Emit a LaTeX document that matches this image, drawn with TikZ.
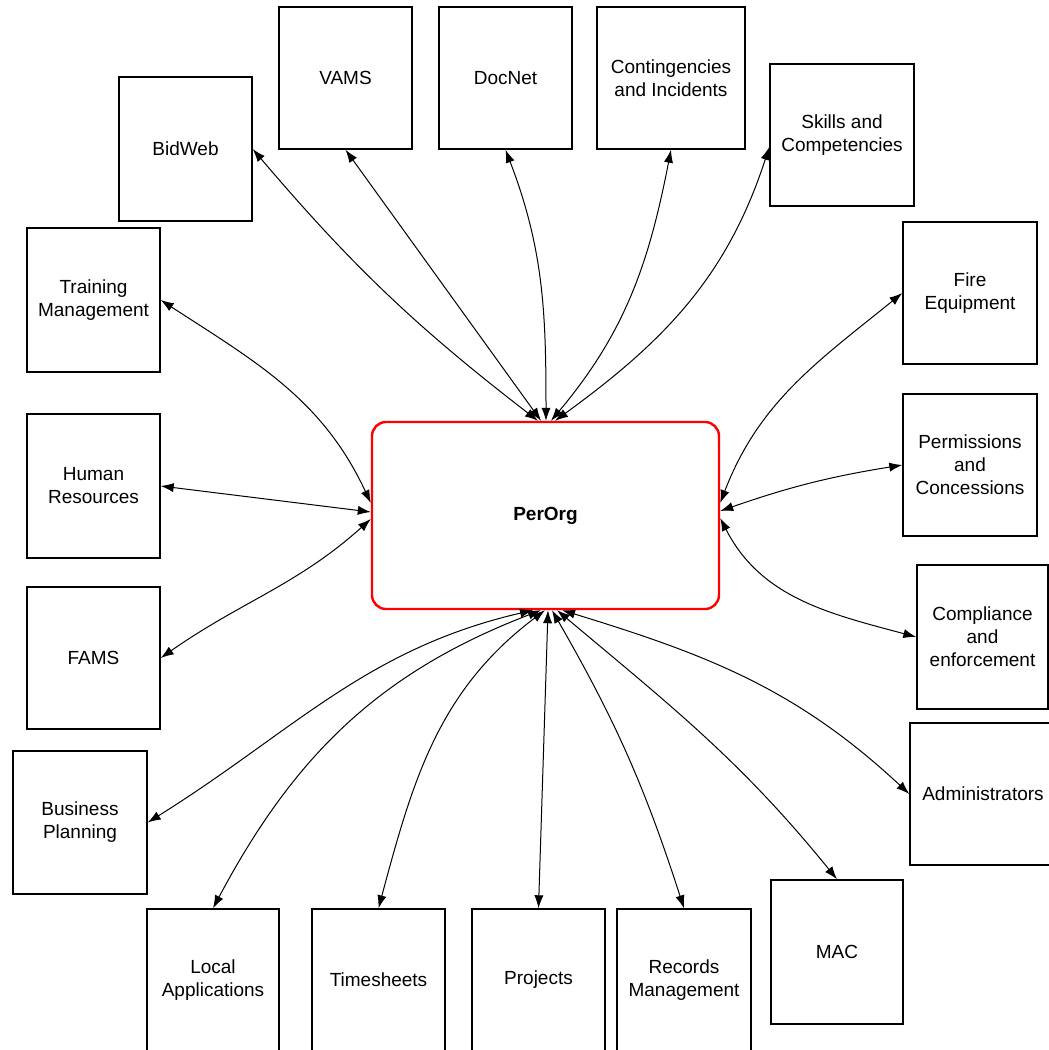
\documentclass[tikz,border=0pt]{standalone}
\usepackage{fontspec}
\setmainfont{Liberation Sans}
\usetikzlibrary{arrows.meta,calc}
\begin{document}
\begin{tikzpicture}[x=0.5pt,y=0.5pt,
  box/.style={draw=black, line width=0.7pt, fill=white, align=center, inner sep=0pt,
    font=\fontsize{9.5}{11.5}\selectfont},
  sz/.style 2 args={minimum width=#1*0.5pt, minimum height=#2*0.5pt},
  hub/.style={draw=red, line width=1.2pt, rounded corners=7pt, fill=white, align=center, inner sep=0pt,
    font=\bfseries\fontsize{9.5}{11.5}\selectfont},
  link/.style={line width=0.5pt, {Latex[length=6.5pt,width=4.6pt]}-{Latex[length=6.5pt,width=4.6pt]}}]
\useasboundingbox (0,0) rectangle (1049,-1050);
\fill[white] (0,0) rectangle (1049,-1050);
\clip (0,0) rectangle (1049,-1050);

% hub
\node[hub,sz={347}{187}] (P) at (545.5,-515.5) {PerOrg};

% boxes
\node[box,sz={133}{144}] (bid)   at (185.5,-149) {BidWeb};
\node[box,sz={133}{142}] (vams)  at (345.5,-78)  {VAMS};
\node[box,sz={133}{142}] (doc)   at (505.5,-78)  {DocNet};
\node[box,sz={148}{142}] (cont)  at (671,-78)    {Contingencies\\and Incidents};
\node[box,sz={144}{142}] (skill) at (842,-135)   {Skills and\\Competencies};
\node[box,sz={133}{144}] (train) at (93.5,-300)  {Training\\Management};
\node[box,sz={133}{144}] (hr)    at (93.5,-486)  {Human\\Resources};
\node[box,sz={133}{142}] (fams)  at (93.5,-658)  {FAMS};
\node[box,sz={134}{143}] (bp)    at (80,-822.5)  {Business\\Planning};
\node[box,sz={134}{142}] (fire)  at (970,-293)   {Fire\\Equipment};
\node[box,sz={134}{142}] (perm)  at (970,-465)   {Permissions\\and\\Concessions};
\node[box,sz={131}{144}] (comp)  at (982.5,-637) {Compliance\\and\\enforcement};
\node[box,sz={146}{142}] (admin) at (983,-794)   {Administrators};
\node[box,sz={132}{144}] (mac)   at (837,-952)   {MAC};
\node[box,sz={132}{142}] (local) at (213,-980)   {Local\\Applications};
\node[box,sz={133}{142}] (ts)    at (378.5,-980) {Timesheets};
\node[box,sz={133}{142}] (proj)  at (538.5,-980) {Projects};
\node[box,sz={134}{142}] (rec)   at (684,-980)   {Records\\Management};

% attach points on the hub
\coordinate (pt1) at ($(P.north)+(-7.5,0)$);
\coordinate (pt2) at ($(P.north)+(-4.5,0)$);
\coordinate (pt3) at ($(P.north)+(0.5,0)$);
\coordinate (pt4) at ($(P.north)+(5.5,0)$);
\coordinate (pt5) at ($(P.north)+(9.5,0)$);
\coordinate (pl1) at ($(P.west)+(0,12.5)$);
\coordinate (pl2) at ($(P.west)+(0,3.5)$);
\coordinate (pl3) at ($(P.west)+(0,-3.5)$);
\coordinate (pr1) at ($(P.east)+(0,12.5)$);
\coordinate (pr2) at ($(P.east)+(0,4.5)$);
\coordinate (pr3) at ($(P.east)+(0,-2.5)$);
\coordinate (pb1) at ($(P.south)+(-12.5,0)$);
\coordinate (pb2) at ($(P.south)+(-4.5,0)$);
\coordinate (pb3) at ($(P.south)+(-0.5,0)$);
\coordinate (pb4) at ($(P.south)+(2.5,0)$);
\coordinate (pb5) at ($(P.south)+(6.5,0)$);
\coordinate (pb6) at ($(P.south)+(11.5,0)$);
\coordinate (pb7) at ($(P.south)+(16.5,0)$);

% top connectors
\draw[link] (bid.east) to[bend right=6] (pt1);
\draw[link] (vams.south) -- (pt2);
\draw[link] (doc.south) to[out=-69,in=90] (pt3);
\draw[link] (cont.south) to[out=-101,in=50] (pt4);
\draw[link] ([yshift=-6pt]skill.west) to[out=-108,in=36] (pt5);

% left connectors
\draw[link] (train.east) to[out=-33,in=115] (pl1);
\draw[link] (hr.east) -- (pl2);
\draw[link] (pl3) to[out=222,in=35] (fams.east);

% right connectors
\draw[link] (pr1) to[out=69,in=219] (fire.west);
\draw[link] (pr2) to[bend left=5] (perm.west);
\draw[link] (pr3) to[out=-63,in=165] (comp.west);

% bottom connectors
\draw[link] (pb1) to[out=193,in=32] (bp.east);
\draw[link] (pb2) to[out=201,in=62] (local.north);
\draw[link] (pb3) to[out=217,in=75] (ts.north);
\draw[link] (pb4) -- (proj.north);
\draw[link] (pb5) to[bend left=6] (rec.north);
\draw[link] (pb6) to[out=-40,in=129] (mac.north);
\draw[link] (pb7) to[out=-17,in=137] (admin.west);
\end{tikzpicture}
\end{document}
